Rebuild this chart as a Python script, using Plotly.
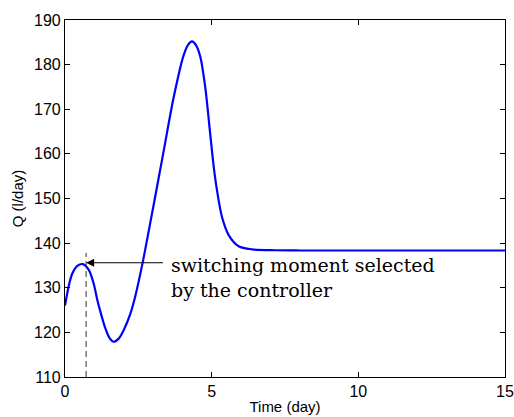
import plotly.graph_objects as go

# Data
days = [0, 0.14, 0.25, 0.42, 0.61, 0.82, 0.99, 1.10, 1.20, 1.37, 1.52, 1.66,
        1.83, 2.00, 2.23, 2.40, 2.64, 3.02, 3.36, 3.70, 4.04, 4.20, 4.33, 4.47,
        4.61, 4.78, 4.95, 5.07, 5.18, 5.35, 5.58, 5.92, 6.38, 7.17, 8, 10, 12, 15]
flow = [126.0, 130.8, 133.2, 134.9, 135.3, 133.9, 130.6, 127.3, 124.8, 121.0,
        118.7, 117.9, 118.6, 120.5, 124.2, 128.2, 135.4, 148.5, 160.5, 172.5,
        182.0, 184.5, 185.2, 184.3, 181.8, 175.0, 164.5, 157.1, 151.9, 145.9,
        141.8, 139.3, 138.6, 138.4, 138.35, 138.35, 138.35, 138.35]

switch_day = 0.72
switch_top = 137.8
arrow_q = 135.6
arrow_tail_day = 3.39
annot_text = "switching moment selected<br>by the controller"

x_ticks = [0, 5, 10, 15]
y_ticks = [110, 120, 130, 140, 150, 160, 170, 180, 190]

fig = go.Figure()
fig.add_trace(go.Scatter(x=days, y=flow, mode="lines",
                         line=dict(color="#0000ff", width=2.2, shape="spline", smoothing=0.8),
                         showlegend=False, hoverinfo="skip"))
fig.add_trace(go.Scatter(x=[switch_day, switch_day], y=[110, switch_top], mode="lines",
                         line=dict(color="#333333", width=1, dash="6px,4px"),
                         showlegend=False, hoverinfo="skip"))

fig.add_annotation(x=switch_day, y=arrow_q, ax=arrow_tail_day, ay=arrow_q,
                   xref="x", yref="y", axref="x", ayref="y",
                   text="", showarrow=True, arrowhead=2, arrowsize=1.6,
                   arrowwidth=1, arrowcolor="black")
fig.add_annotation(x=arrow_tail_day + 0.15, y=arrow_q, xref="x", yref="y",
                   text=annot_text, showarrow=False, xanchor="left", yanchor="top",
                   align="left", yshift=11,
                   font=dict(family="DejaVu Serif", size=19, color="black"))

tick_font = dict(family="Liberation Sans, Arial", size=16, color="black")
title_font = dict(family="Liberation Sans, Arial", size=15, color="black")
axis_common = dict(showline=True, linecolor="black", linewidth=1.2, mirror="ticks",
                   ticks="inside", ticklen=5, tickcolor="black", showgrid=False,
                   zeroline=False, tickfont=tick_font, automargin=False)
fig.update_xaxes(range=[0, 15], tickvals=x_ticks,
                 title=dict(text="Time (day)", font=title_font, standoff=2),
                 **axis_common)
fig.update_yaxes(range=[110, 190], tickvals=y_ticks,
                 title=dict(text="Q (l/day)", font=title_font, standoff=6),
                 **axis_common)

fig.update_layout(width=514, height=417, margin=dict(l=65, r=9, t=20, b=40),
                  plot_bgcolor="white", paper_bgcolor="white")
fig.write_html("out.html")
